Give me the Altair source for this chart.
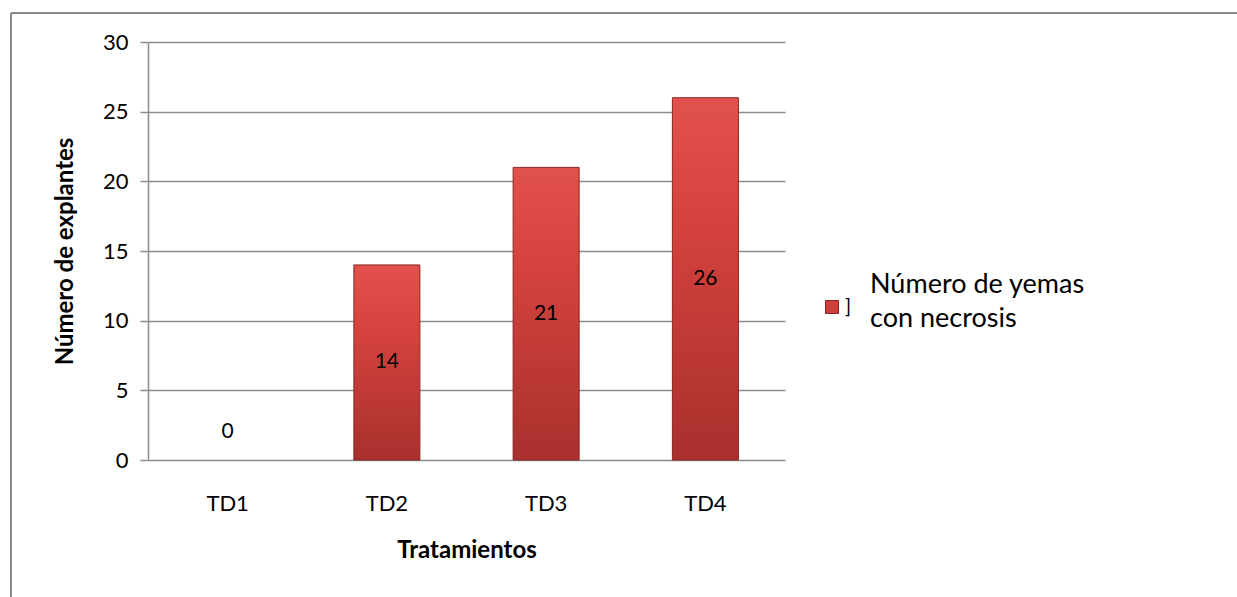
import altair as alt
import pandas as pd

# Data
tratamientos = ["TD1", "TD2", "TD3", "TD4"]
necrosis = [0, 14, 21, 26]
serie = "Número de yemas\ncon necrosis"

df = pd.DataFrame({"Tratamiento": tratamientos, "Valor": necrosis, "Serie": serie})
df_serie = pd.DataFrame({"Serie": [serie]})

FONT = "Lato"
GRID = "#8c8c8c"
RED = "#cf3f3b"
DARK = "#8a2522"

bar_fill = alt.Gradient(
    gradient="linear",
    stops=[
        alt.GradientStop(color="#e2524d", offset=0),
        alt.GradientStop(color="#d4423e", offset=0.35),
        alt.GradientStop(color="#a8302d", offset=1),
    ],
    x1=0, x2=0, y1=0, y2=1,
)

x_enc = alt.X(
    "Tratamiento:N",
    sort=tratamientos,
    scale=alt.Scale(paddingInner=0, paddingOuter=0),
    axis=alt.Axis(
        title="Tratamientos",
        labelAngle=0,
        labelFont=FONT,
        labelFontSize=22,
        labelColor="#000000",
        labelPadding=33,
        ticks=False,
        domain=False,
        titleFont=FONT,
        titleFontSize=24,
        titleFontWeight="bold",
        titleColor="#000000",
        titlePadding=24,
    ),
)

bars = alt.Chart(df).transform_filter("datum.Valor > 0").mark_bar(
    size=66, fill=bar_fill, stroke=DARK, strokeWidth=1
).encode(
    x=x_enc,
    y=alt.Y(
        "Valor:Q",
        scale=alt.Scale(domain=[0, 30]),
        axis=alt.Axis(
            title="Número de explantes",
            values=[0, 5, 10, 15, 20, 25, 30],
            labelFont=FONT,
            labelFontSize=22,
            labelColor="#000000",
            labelPadding=12,
            tickSize=8,
            tickColor=GRID,
            tickWidth=1.5,
            domainColor=GRID,
            domainWidth=1.5,
            gridColor=GRID,
            gridWidth=1.5,
            titleFont=FONT,
            titleFontSize=24,
            titleFontWeight="bold",
            titleColor="#000000",
            titlePadding=25,
        ),
    ),
)

labels = alt.Chart(df).transform_calculate(
    pos="datum.Valor > 0 ? datum.Valor / 2 : 2"
).mark_text(font=FONT, fontSize=21, color="#000000").encode(
    x=alt.X("Tratamiento:N", sort=tratamientos),
    y=alt.Y("pos:Q"),
    text=alt.Text("Valor:Q"),
)

# Legend drawn beside the plot: swatch, bracket and two-line series name
legend_swatch = alt.Chart(df_serie).mark_square(
    size=169, fill=RED, stroke=DARK, strokeWidth=1, opacity=1
).encode(x=alt.value(684), y=alt.value(265))

legend_bracket = alt.Chart(df_serie).mark_text(
    font=FONT, fontSize=20, color="#000000", align="left", baseline="middle"
).encode(x=alt.value(697), y=alt.value(265), text=alt.value("]"))

legend_text = alt.Chart(df_serie).mark_text(
    font=FONT, fontSize=27, color="#000000", align="left",
    baseline="alphabetic", lineBreak="\n", lineHeight=34
).encode(x=alt.value(722), y=alt.value(251), text="Serie:N")

# Outer chart frame (top and left edges)
frame_top = alt.Chart(df_serie).mark_rule(color="#8a8a8a", strokeWidth=2).encode(
    x=alt.value(-137), x2=alt.value(1095), y=alt.value(-29)
)
frame_left = alt.Chart(df_serie).mark_rule(color="#8a8a8a", strokeWidth=2).encode(
    x=alt.value(-137), y=alt.value(-29), y2=alt.value(560)
)

chart = (
    alt.layer(bars, labels, legend_swatch, legend_bracket, legend_text,
              frame_top, frame_left)
    .properties(
        width=637,
        height=418,
        autosize=alt.AutoSizeParams(type="none"),
        padding={"left": 148, "top": 42, "right": 452, "bottom": 137},
        background="#ffffff",
    )
    .configure_view(stroke=None)
)

chart.save("out.html", embed_options={"renderer": "svg", "actions": False})
